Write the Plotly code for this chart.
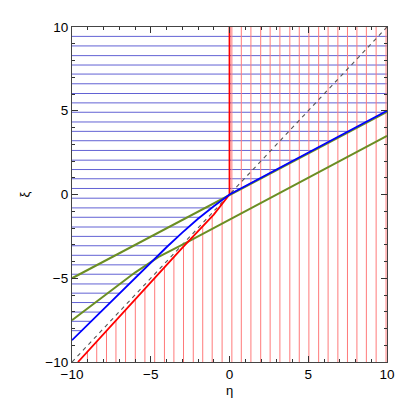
import numpy as np
import plotly.graph_objects as go

# grid line positions
eta_grid = [-9.02, -8.43, -7.81, -7.21, -6.60, -5.98, -5.37, -4.75, -4.13, -3.53,
            -2.92, -2.30, -1.70, -1.10, -0.47, 0.15, 0.75, 1.36, 1.98, 2.58,
            3.20, 3.83, 4.43, 5.04, 5.66, 6.26, 6.88, 7.49, 8.09, 8.69, 9.31, 9.94]
xi_grid = [9.44, 8.87, 8.29, 7.73, 7.19, 6.61, 6.03, 5.47, 4.91, 4.33, 3.77,
           3.21, 2.63, 2.05, 1.49, 0.94, 0.36, -0.22, -0.80, -1.36, -1.94,
           -2.50, -3.06, -3.63, -4.20, -4.76, -5.34, -5.89, -6.45, -7.02,
           -7.57, -8.13]

# boundary curves (sorted by eta)
red_eta = [-9.62, -7.0, -5.0, -3.0, -2.0, -1.0, 0.0]
red_xi = [-10.0, -7.3, -5.25, -3.18, -2.2, -1.2, 0.0]

blue_eta = [-10, -9, -8, -7, -6, -5, -4, -3, -2, -1, 0, 10]
blue_xi = [-8.7, -7.77, -6.84, -5.9, -4.97, -4.05, -3.15, -2.28, -1.45, -0.70, 0.0, 5.0]

green1_eta = [-10, 10]
green1_xi = [-5.0, 4.93]
green2_eta = [-10, -8, -6, -4.5, -2.8, 10]
green2_xi = [-7.5, -6.08, -4.66, -3.72, -2.9, 3.5]

diag = [-10, 10]

# horizontal lines: from left edge to the blue boundary
hx, hy = [], []
for c in xi_grid:
    end = np.interp(c, blue_xi, blue_eta)
    hx += [-10, end, None]
    hy += [c, c, None]

# vertical lines: from bottom edge to the red boundary
vx, vy = [], []
for c in eta_grid:
    top = 10 if c >= 0 else np.interp(c, red_eta, red_xi)
    vx += [c, c, None]
    vy += [-10, top, None]

fig = go.Figure()
fig.add_trace(go.Scatter(x=hx, y=hy, mode='lines',
                         line=dict(color='#6262d4', width=1)))
fig.add_trace(go.Scatter(x=vx, y=vy, mode='lines',
                         line=dict(color='#ff7a7a', width=1)))
fig.add_trace(go.Scatter(x=diag, y=diag, mode='lines',
                         line=dict(color='#555555', width=1.1, dash='4px,4px')))
fig.add_trace(go.Scatter(x=green1_eta, y=green1_xi, mode='lines',
                         line=dict(color='#6b8e23', width=2)))
fig.add_trace(go.Scatter(x=green2_eta, y=green2_xi, mode='lines',
                         line=dict(color='#6b8e23', width=2)))
fig.add_trace(go.Scatter(x=[0] + red_eta[::-1], y=[10] + red_xi[::-1], mode='lines',
                         line=dict(color='#ff0000', width=1.8)))
fig.add_trace(go.Scatter(x=blue_eta, y=blue_xi, mode='lines',
                         line=dict(color='#0000ff', width=1.8)))

axis_style = dict(
    range=[-10, 10],
    tickvals=[-10, -5, 0, 5, 10],
    ticks='inside',
    ticklen=6,
    tickcolor='#333333',
    minor=dict(dtick=1, ticks='inside', ticklen=3, tickcolor='#333333'),
    showline=True,
    linecolor='#444444',
    linewidth=1.2,
    mirror='allticks',
    showgrid=False,
    zeroline=False,
    tickfont=dict(size=13.5, color='black'),
)

# page body adds an 8px margin, so the figure is a bit smaller than the window
fig.update_layout(
    width=399,
    height=399,
    margin=dict(l=64, r=14, t=15, b=39),
    plot_bgcolor='white',
    paper_bgcolor='white',
    showlegend=False,
    font=dict(family='Liberation Sans, Arial, sans-serif', color='black'),
    xaxis=dict(axis_style, title=dict(text='η', font=dict(size=13), standoff=4)),
    yaxis=dict(axis_style, title=dict(text='ξ', font=dict(size=13), standoff=12)),
)

fig.write_html("out.html")
